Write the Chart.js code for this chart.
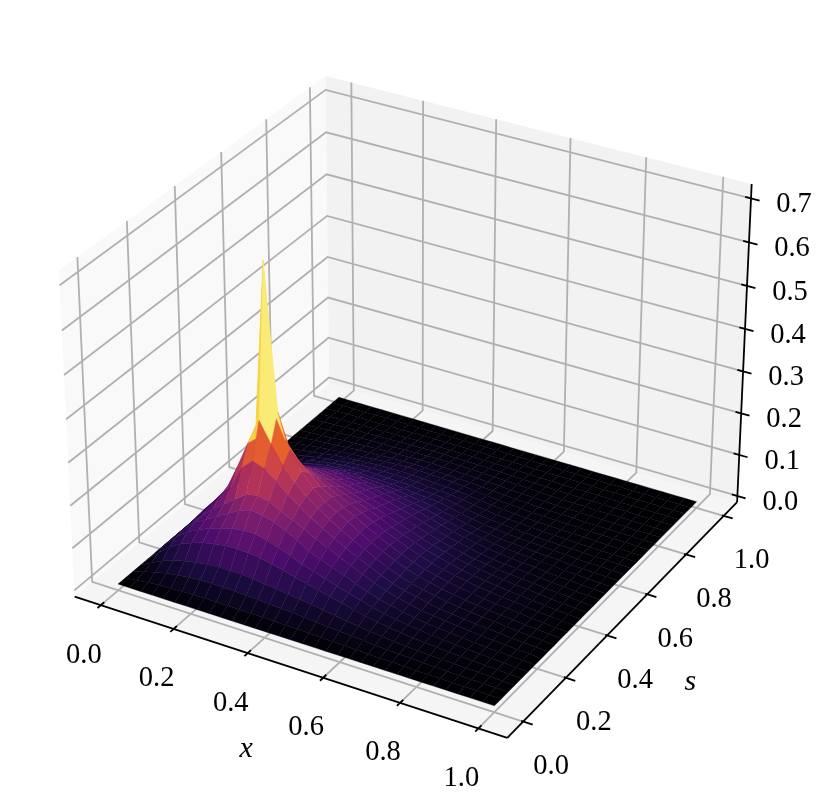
<!DOCTYPE html>
<html>
<head>
<meta charset="utf-8">
<title>surface</title>
<script src="https://cdn.jsdelivr.net/npm/chart.js@4"></script>
<style>
  html, body { margin: 0; padding: 0; background: #fff; }
  canvas { display: block; }
</style>
</head>
<body>
<canvas id="chart" width="831" height="811"></canvas>
<script>
const xValues = [0,0.03125,0.0625,0.09375,0.125,0.15625,0.1875,0.21875,0.25,0.28125,0.3125,0.34375,0.375,0.40625,0.4375,0.46875,0.5,0.53125,0.5625,0.59375,0.625,0.65625,0.6875,0.71875,0.75,0.78125,0.8125,0.84375,0.875,0.90625,0.9375,0.96875,1];
const sValues = [0,0.03125,0.0625,0.09375,0.125,0.15625,0.1875,0.21875,0.25,0.28125,0.3125,0.34375,0.375,0.40625,0.4375,0.46875,0.5,0.53125,0.5625,0.59375,0.625,0.65625,0.6875,0.71875,0.75,0.78125,0.8125,0.84375,0.875,0.90625,0.9375,0.96875,1];

// one row per s value
const zRows = [
[0,0,0,0,0,0,0,0,0,0,0,0,0,0,0,0,0,0,0,0,0,0,0,0,0,0,0,0,0,0,0,0,0],
[0,.003,.006,.009,.01,.011,.012,.012,.012,.012,.012,.012,.011,.011,.01,.01,.009,.008,.007,.006,.006,.005,.004,.004,.003,.002,.002,.002,.001,.001,.001,0,0],
[0,.008,.016,.022,.026,.03,.032,.032,.032,.031,.03,.029,.027,.026,.024,.022,.02,.018,.016,.014,.012,.01,.008,.007,.006,.005,.004,.003,.003,.002,.001,.001,0],
[0,.015,.028,.038,.045,.05,.054,.056,.056,.056,.054,.051,.048,.044,.041,.037,.033,.029,.025,.021,.018,.015,.012,.01,.008,.007,.006,.005,.004,.003,.002,.001,0],
[0,.024,.046,.062,.073,.082,.088,.092,.093,.092,.089,.083,.077,.069,.063,.056,.05,.043,.036,.03,.025,.021,.017,.014,.012,.01,.008,.006,.005,.004,.003,.001,0],
[0,.03,.056,.076,.09,.102,.11,.118,.122,.122,.116,.107,.097,.085,.077,.068,.06,.051,.043,.035,.029,.024,.02,.017,.014,.012,.009,.007,.006,.004,.003,.001,0],
[0,.03,.06,.084,.1,.115,.13,.146,.155,.152,.145,.132,.118,.1,.09,.08,.07,.059,.048,.039,.033,.027,.022,.018,.015,.013,.01,.008,.006,.005,.003,.002,0],
[0,.03,.06,.085,.11,.13,.15,.17,.175,.17,.155,.143,.13,.115,.103,.09,.078,.066,.054,.044,.036,.03,.024,.02,.017,.014,.011,.009,.007,.005,.003,.002,0],
[0,.03,.063,.092,.125,.155,.21,.235,.225,.205,.18,.16,.142,.125,.11,.096,.082,.07,.057,.046,.038,.032,.026,.021,.018,.015,.012,.01,.008,.005,.004,.002,0],
[0,.03,.065,.095,.13,.19,.255,.318,.27,.225,.195,.17,.15,.132,.116,.1,.087,.073,.06,.049,.04,.034,.028,.023,.019,.016,.013,.011,.008,.006,.004,.002,0],
[0,.03,.065,.098,.14,.2,.25,.667,.33,.25,.205,.175,.15,.135,.12,.103,.088,.075,.062,.051,.042,.036,.03,.025,.02,.017,.014,.011,.009,.006,.004,.002,0],
[0,.03,.065,.1,.155,.225,.24,.31,.25,.215,.19,.165,.148,.132,.118,.102,.088,.075,.063,.052,.043,.037,.031,.026,.021,.017,.014,.012,.009,.006,.004,.002,0],
[0,.03,.066,.105,.17,.2,.205,.215,.2,.18,.165,.15,.137,.125,.112,.099,.085,.074,.063,.053,.044,.037,.031,.026,.021,.018,.014,.012,.009,.006,.004,.002,0],
[0,.03,.068,.115,.17,.18,.175,.17,.165,.155,.145,.135,.125,.115,.105,.093,.081,.071,.061,.051,.043,.036,.03,.025,.021,.017,.014,.012,.009,.006,.004,.002,0],
[0,.03,.072,.12,.15,.145,.145,.145,.14,.135,.13,.122,.113,.104,.095,.086,.075,.066,.056,.048,.04,.034,.029,.024,.02,.017,.014,.012,.009,.006,.004,.002,0],
[0,.035,.07,.095,.105,.115,.122,.125,.123,.12,.115,.109,.102,.095,.087,.079,.07,.061,.052,.044,.037,.031,.026,.022,.018,.015,.013,.011,.008,.006,.004,.002,0],
[0,.028,.055,.072,.085,.095,.103,.107,.108,.106,.102,.098,.093,.087,.08,.072,.065,.056,.048,.04,.034,.028,.023,.019,.016,.014,.012,.009,.007,.005,.003,.002,0],
[0,.022,.042,.056,.068,.078,.087,.092,.094,.093,.09,.087,.083,.078,.072,.065,.059,.051,.044,.037,.031,.026,.021,.017,.015,.013,.011,.008,.006,.005,.003,.001,0],
[0,.016,.032,.045,.055,.063,.07,.075,.078,.078,.077,.074,.071,.067,.062,.057,.052,.045,.038,.032,.027,.022,.018,.015,.013,.011,.009,.007,.005,.004,.002,.001,0],
[0,.012,.024,.035,.044,.051,.057,.061,.064,.065,.064,.062,.06,.057,.053,.049,.045,.039,.033,.027,.022,.019,.015,.013,.011,.009,.008,.006,.004,.003,.002,.001,0],
[0,.009,.018,.027,.035,.041,.046,.049,.051,.052,.051,.05,.049,.047,.044,.042,.04,.034,.028,.023,.018,.016,.013,.011,.009,.008,.006,.005,.003,.002,.002,.001,0],
[0,.007,.014,.021,.028,.033,.037,.04,.042,.043,.043,.042,.041,.04,.037,.036,.033,.028,.023,.019,.015,.013,.011,.009,.007,.006,.005,.004,.003,.002,.002,.001,0],
[0,.005,.011,.016,.021,.025,.029,.032,.034,.035,.036,.036,.036,.034,.031,.03,.028,.024,.02,.016,.013,.011,.009,.007,.006,.005,.004,.003,.002,.002,.001,.001,0],
[0,.004,.008,.012,.016,.02,.023,.025,.027,.028,.029,.029,.029,.028,.026,.025,.023,.02,.016,.013,.011,.009,.007,.006,.005,.004,.003,.003,.002,.001,.001,0,0],
[0,.003,.006,.009,.012,.015,.017,.019,.021,.023,.024,.026,.026,.025,.023,.022,.02,.017,.014,.011,.009,.008,.006,.005,.004,.003,.003,.002,.002,.001,.001,0,0],
[0,.002,.005,.007,.009,.011,.013,.015,.016,.017,.018,.019,.019,.018,.017,.016,.015,.013,.011,.009,.007,.006,.005,.004,.003,.003,.002,.002,.001,.001,.001,0,0],
[0,.002,.003,.005,.007,.008,.01,.011,.012,.013,.014,.015,.015,.014,.014,.013,.012,.01,.009,.007,.006,.005,.004,.003,.003,.002,.002,.001,.001,.001,0,0,0],
[0,.001,.003,.004,.005,.006,.008,.009,.009,.01,.011,.011,.012,.011,.011,.01,.009,.008,.007,.006,.005,.004,.003,.002,.002,.002,.001,.001,.001,.001,0,0,0],
[0,.001,.002,.003,.004,.005,.006,.006,.007,.008,.008,.009,.009,.008,.008,.008,.007,.006,.005,.004,.004,.003,.002,.002,.001,.001,.001,.001,.001,0,0,0,0],
[0,.001,.001,.002,.002,.003,.003,.004,.004,.005,.005,.005,.005,.005,.005,.005,.004,.004,.003,.003,.002,.002,.001,.001,.001,.001,.001,0,0,0,0,0,0],
[0,0,.001,.001,.001,.001,.002,.002,.002,.003,.003,.003,.003,.003,.003,.002,.002,.002,.002,.001,.001,.001,.001,.001,0,0,0,0,0,0,0,0,0],
[0,0,0,0,.001,.001,.001,.001,.001,.001,.001,.001,.001,.001,.001,.001,.001,.001,.001,0,0,0,0,0,0,0,0,0,0,0,0,0,0],
[0,0,0,0,0,0,0,0,0,0,0,0,0,0,0,0,0,0,0,0,0,0,0,0,0,0,0,0,0,0,0,0,0]
];

const xTicks = [0, 0.2, 0.4, 0.6, 0.8, 1];
const sTicks = [0, 0.2, 0.4, 0.6, 0.8, 1];
const zTicks = [0, 0.1, 0.2, 0.3, 0.4, 0.5, 0.6, 0.7];
const xTickLabels = ["0.0", "0.2", "0.4", "0.6", "0.8", "1.0"];
const sTickLabels = ["0.0", "0.2", "0.4", "0.6", "0.8", "1.0"];
const zTickLabels = ["0.0", "0.1", "0.2", "0.3", "0.4", "0.5", "0.6", "0.7"];

// inferno, evenly spaced stops
const inferno = [[0,0,4],[27,12,66],[75,12,107],[120,28,109],[165,44,96],[207,68,70],[237,105,37],[251,154,6],[247,208,60],[252,255,164]];

// pane limits of the 3d box
const xLim = [-0.0729, 1.0729];
const sLim = [-0.0729, 1.0729];
const zLim = [-0.015, 0.7325];

// same camera as mplot3d: elev 30, azim -60, dist 10
const boxSize = [1.1905, 1.1905, 0.8929];
const uAxis = [0.866, 0.5, 0];
const vAxis = [-0.25, 0.433, 0.866];
const wAxis = [0.433, -0.75, 0.5];
const camDist = 10;
const screenX = 412, screenY = 391, screenScale = 4163;

function toBox(x, s, z) {
    return [
        ((x - xLim[0]) / (xLim[1] - xLim[0]) - 0.5) * boxSize[0],
        ((s - sLim[0]) / (sLim[1] - sLim[0]) - 0.5) * boxSize[1],
        ((z - zLim[0]) / (zLim[1] - zLim[0]) - 0.5) * boxSize[2],
    ];
}

function dot(a, b) {
    return a[0] * b[0] + a[1] * b[1] + a[2] * b[2];
}

function project(x, s, z) {
    const d = toBox(x, s, z);
    const w = camDist - dot(wAxis, d);
    return {
        x: screenX + screenScale * dot(uAxis, d) / w,
        y: screenY - screenScale * dot(vAxis, d) / w,
    };
}

function cellColor(t) {
    const v = Math.min(Math.max(t, 0), 1) * (inferno.length - 1);
    const i = Math.min(Math.floor(v), inferno.length - 2);
    const f = v - i;
    const c = inferno[i].map((c0, k) => Math.round(c0 + (inferno[i + 1][k] - c0) * f));
    return `rgb(${c[0]},${c[1]},${c[2]})`;
}

const datasets = [];

function addPolygon(points, color, order, seam) {
    datasets.push({
        data: points.map((p) => project(p[0], p[1], p[2])),
        polyColor: color,
        polySeam: seam,
        showLine: false,
        pointRadius: 0,
        clip: false,
        order,
    });
}

function addLine(points, color, width, order) {
    datasets.push({
        data: points.map((p) => project(p[0], p[1], p[2])),
        showLine: true,
        borderColor: color,
        borderWidth: width,
        borderCapStyle: "butt",
        pointRadius: 0,
        tension: 0,
        fill: false,
        clip: false,
        order,
    });
}

// panes
addPolygon([[xLim[0], sLim[0], zLim[0]], [xLim[0], sLim[1], zLim[0]], [xLim[0], sLim[1], zLim[1]], [xLim[0], sLim[0], zLim[1]]], "#f9f9f9", 6000, 0);
addPolygon([[xLim[0], sLim[1], zLim[0]], [xLim[1], sLim[1], zLim[0]], [xLim[1], sLim[1], zLim[1]], [xLim[0], sLim[1], zLim[1]]], "#f2f2f2", 6000, 0);
addPolygon([[xLim[0], sLim[0], zLim[0]], [xLim[1], sLim[0], zLim[0]], [xLim[1], sLim[1], zLim[0]], [xLim[0], sLim[1], zLim[0]]], "#f5f5f5", 6000, 0);

// grid lines
const gridColor = "#b0b0b0";
xTicks.forEach((t) => addLine([[t, sLim[0], zLim[0]], [t, sLim[1], zLim[0]], [t, sLim[1], zLim[1]]], gridColor, 1.8, 5000));
sTicks.forEach((t) => addLine([[xLim[1], t, zLim[0]], [xLim[0], t, zLim[0]], [xLim[0], t, zLim[1]]], gridColor, 1.8, 5000));
zTicks.forEach((t) => addLine([[xLim[0], sLim[0], t], [xLim[0], sLim[1], t], [xLim[1], sLim[1], t]], gridColor, 1.8, 5000));

// axis lines and tick marks
addLine([[xLim[0], sLim[0], zLim[0]], [xLim[1], sLim[0], zLim[0]]], "#000", 1.8, 4500);
addLine([[xLim[1], sLim[0], zLim[0]], [xLim[1], sLim[1], zLim[0]]], "#000", 1.8, 4500);
addLine([[xLim[1], sLim[1], zLim[0]], [xLim[1], sLim[1], zLim[1]]], "#000", 1.8, 4500);
xTicks.forEach((t) => addLine([[t, sLim[0] - 0.014, zLim[0]], [t, sLim[0] + 0.014, zLim[0]]], "#000", 1.8, 4500));
sTicks.forEach((t) => addLine([[xLim[1] - 0.005, t, zLim[0]], [xLim[1] + 0.024, t, zLim[0]]], "#000", 1.8, 4500));
zTicks.forEach((t) => addLine([[xLim[1] - 0.015, sLim[1], t], [xLim[1] + 0.022, sLim[1], t]], "#000", 1.8, 4500));

// surface faces, far ones first like plot_surface
const faces = [];
for (let j = 0; j < sValues.length - 1; j++) {
    for (let i = 0; i < xValues.length - 1; i++) {
        const corners = [
            [xValues[i], sValues[j], zRows[j][i]],
            [xValues[i + 1], sValues[j], zRows[j][i + 1]],
            [xValues[i + 1], sValues[j + 1], zRows[j + 1][i + 1]],
            [xValues[i], sValues[j + 1], zRows[j + 1][i]],
        ];
        const avg = corners.reduce((sum, c) => sum + c[2], 0) / 4;
        const depth = corners.reduce((sum, c) => sum + dot(wAxis, toBox(c[0], c[1], c[2])), 0) / 4;
        faces.push({ corners, avg, depth });
    }
}
const maxAvg = Math.max(...faces.map((f) => f.avg));
faces.sort((a, b) => b.depth - a.depth);
faces.forEach((f, n) => addPolygon(f.corners, cellColor(f.avg / (maxAvg * 1.05)), n + 1, 0.35));

const polygonFill = {
    id: "polygonFill",
    beforeDatasetDraw(chart, args) {
        const ds = chart.data.datasets[args.index];
        if (!ds.polyColor) return;
        const pts = args.meta.data;
        const ctx = chart.ctx;
        ctx.save();
        ctx.fillStyle = ds.polyColor;
        ctx.beginPath();
        pts.forEach((p, k) => (k ? ctx.lineTo(p.x, p.y) : ctx.moveTo(p.x, p.y)));
        ctx.closePath();
        ctx.fill();
        if (ds.polySeam) {
            // thin edge so the white page does not show between faces
            ctx.strokeStyle = ds.polyColor;
            ctx.lineWidth = ds.polySeam;
            ctx.stroke();
        }
        ctx.restore();
    },
};

const axisText = {
    id: "axisText",
    afterDraw(chart) {
        const ctx = chart.ctx;
        const sx = chart.scales.x;
        const sy = chart.scales.y;
        const put = (text, p, dx, dy) => {
            ctx.fillText(text, sx.getPixelForValue(p.x) + dx, sy.getPixelForValue(p.y) + dy);
        };
        ctx.save();
        ctx.fillStyle = "#000";
        ctx.textAlign = "center";
        ctx.textBaseline = "middle";
        ctx.font = '28.5px "Liberation Serif"';
        xTicks.forEach((t, n) => put(xTickLabels[n], project(t, sLim[0], zLim[0]), -17, 50));
        sTicks.forEach((t, n) => put(sTickLabels[n], project(xLim[1], t, zLim[0]), 28, 45));
        zTicks.forEach((t, n) => put(zTickLabels[n], project(xLim[1], sLim[1], t), 43, 6.5));
        ctx.font = 'italic 30px "Liberation Serif"';
        put("x", project(0.5, sLim[0], zLim[0]), -39, 84);
        put("s", project(xLim[1], 0.5, zLim[0]), 63, 67);
        ctx.restore();
    },
};

new Chart(document.getElementById("chart"), {
    type: "scatter",
    data: { datasets },
    options: {
        responsive: false,
        animation: false,
        events: [],
        layout: { padding: 0 },
        plugins: { legend: { display: false }, tooltip: { enabled: false } },
        scales: {
            x: { type: "linear", min: 0, max: 831, display: false },
            y: { type: "linear", min: 0, max: 811, reverse: true, display: false },
        },
    },
    plugins: [polygonFill, axisText],
});
</script>
</body>
</html>
